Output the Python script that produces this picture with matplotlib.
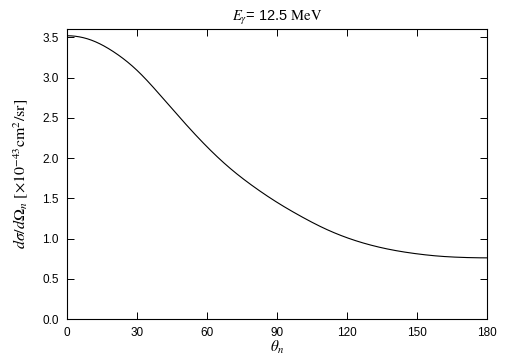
import matplotlib
matplotlib.use("Agg")
import matplotlib.pyplot as plt
import numpy as np

theta = [0, 10, 20, 30, 40, 50, 60, 70, 80, 90, 100, 110, 120, 130, 140, 150, 160, 170, 180]
dsigma = [3.52, 3.47, 3.32, 3.09, 2.78, 2.45, 2.14, 1.87, 1.645, 1.45, 1.28, 1.13, 1.01, 0.92, 0.855, 0.81, 0.78, 0.765, 0.76]
xticks = [0, 30, 60, 90, 120, 150, 180]
yticks = [0.0, 0.5, 1.0, 1.5, 2.0, 2.5, 3.0, 3.5]

plt.rcParams['mathtext.fontset'] = 'stix'
plt.rcParams['font.family'] = ['Liberation Sans', 'DejaVu Sans']

fig = plt.figure(figsize=(5.05, 3.61), dpi=100)
ax = fig.add_axes([0.1327, 0.1163, 0.8317, 0.8025])

# clamped cubic spline through the read points (zero slope at both ends)
x = np.array(theta, float); y = np.array(dsigma, float)
n = len(x); h = np.diff(x)
A = np.zeros((n, n)); b = np.zeros(n)
A[0, 0] = 2*h[0]; A[0, 1] = h[0]; b[0] = 3*((y[1]-y[0])/h[0] - 0.0)
A[-1, -2] = h[-1]; A[-1, -1] = 2*h[-1]; b[-1] = 3*(0.0 - (y[-1]-y[-2])/h[-1])
for i in range(1, n-1):
    A[i, i-1] = h[i-1]; A[i, i] = 2*(h[i-1]+h[i]); A[i, i+1] = h[i]
    b[i] = 3*((y[i+1]-y[i])/h[i] - (y[i]-y[i-1])/h[i-1])
c = np.linalg.solve(A, b)
bb = (y[1:]-y[:-1])/h - h*(2*c[:-1]+c[1:])/3
dd = (c[1:]-c[:-1])/(3*h)
xs = np.linspace(0, 180, 721)
idx = np.clip(np.searchsorted(x, xs) - 1, 0, n-2)
dx = xs - x[idx]
ys = y[idx] + bb[idx]*dx + c[idx]*dx**2 + dd[idx]*dx**3

ax.plot(xs, ys, color='black', lw=0.8)
ax.set_xlim(0, 180)
ax.set_ylim(0, 3.6)
ax.set_xticks(xticks)
ax.set_yticks(yticks)
ax.set_yticklabels([f"{v:.1f}" for v in yticks])
ax.tick_params(direction='in', length=5, width=0.7, top=True, right=True, labelsize=8.5, pad=6)
for s in ax.spines.values():
    s.set_linewidth(0.8)

ax.set_title(r"$E_\gamma$= 12.5 $\mathrm{MeV}$", fontsize=10.5, pad=6)
ax.set_xlabel(r"$\theta_n$", fontsize=11, labelpad=0)
ax.set_ylabel(r"$d\sigma/d\Omega_n\ [\times10^{-43}\mathrm{cm}^2\mathrm{/sr}]$", fontsize=11.5, labelpad=9)

fig.savefig("out.png", dpi=100)
